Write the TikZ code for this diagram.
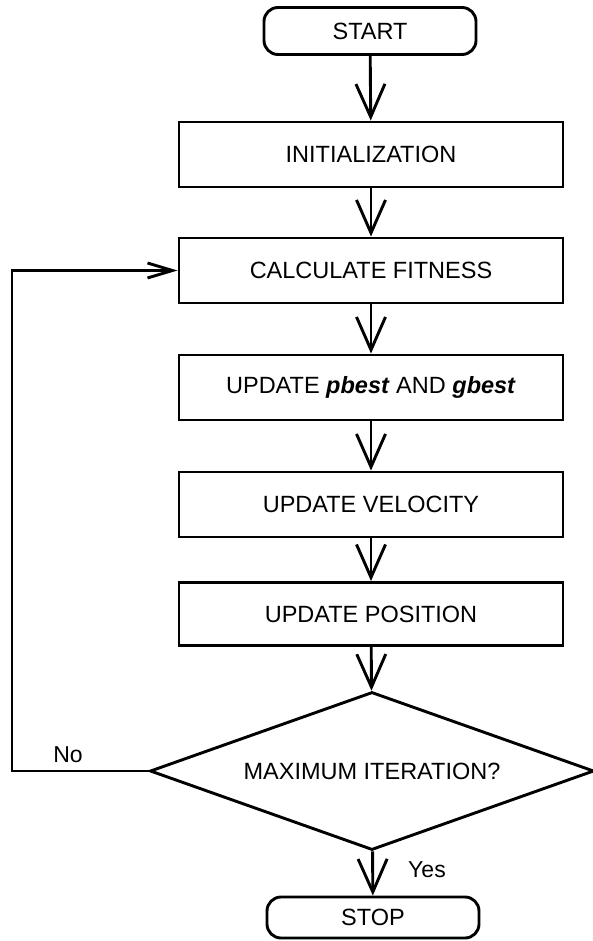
\documentclass[tikz,border=0pt]{standalone}
\usepackage{fontspec}
\setmainfont{Liberation Sans}
\usetikzlibrary{shapes.geometric,arrows.meta}
\begin{document}
\begin{tikzpicture}[x=1pt,y=-1pt,
  font=\fontsize{23.5}{28}\selectfont,
  every node/.style={inner sep=0pt},
  procbox/.style={draw,line width=2.9pt,minimum width=384pt,minimum height=65pt},
  termbox/.style={draw,line width=2.9pt,rounded corners=14pt,minimum width=212pt},
  decbox/.style={draw,diamond,line width=2.9pt,aspect=2.8,minimum width=444pt,minimum height=158pt},
  flow/.style={line width=2.9pt,-{Straight Barb[length=33pt,width=29pt,line width=2.9pt]}},
  loopflow/.style={line width=2.9pt,-{Straight Barb[length=25pt,width=15pt,line width=2.9pt]}},
  lbl/.style={font=\fontsize{23}{27}\selectfont}
]
\useasboundingbox (0,0) rectangle (592,941);
\node[termbox,minimum height=47pt] (start) at (370,31) {START};
\node[procbox] (init) at (371,154.5) {INITIALIZATION};
\node[procbox] (calc) at (371,270.5) {CALCULATE FITNESS};
\node[procbox] (upd) at (371,387.5) {UPDATE \textbf{\textit{pbest}} AND \textbf{\textit{gbest}}};
\node[procbox] (vel) at (371,504.5) {UPDATE VELOCITY};
\node[procbox,minimum height=63pt] (pos) at (371,614) {UPDATE POSITION};
\node[decbox] (dec) at (372,771) {MAXIMUM ITERATION?};
\node[termbox,minimum height=41pt] (stop) at (373,917.5) {STOP};
\coordinate (corner) at (12,771);
\draw[flow] (start) -- (init);
\draw[flow] (init) -- (calc);
\draw[flow] (calc) -- (upd);
\draw[flow] (upd) -- (vel);
\draw[flow] (vel) -- (pos);
\draw[flow] (pos) -- (dec);
\draw[flow] (dec) -- (stop);
\draw[loopflow] (dec.west) -- (corner) |- (calc.west);
\node[lbl] (no) at (68,755) {No};
\node[lbl] (yes) at (427,870) {Yes};
\end{tikzpicture}
\end{document}
